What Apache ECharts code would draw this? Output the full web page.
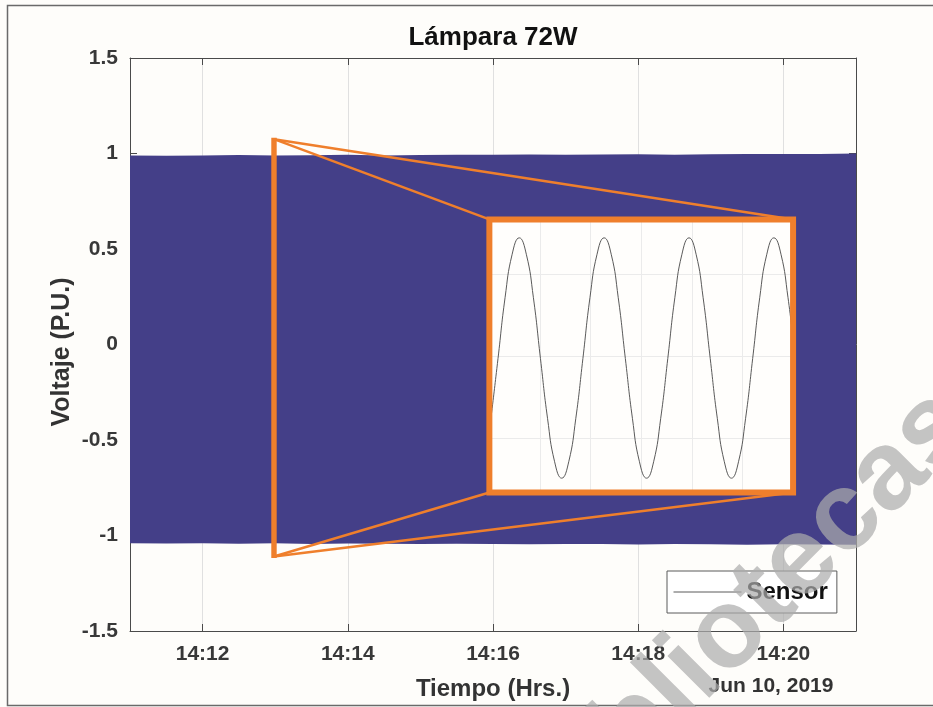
<!DOCTYPE html>
<html><head><meta charset="utf-8">
<script src="https://cdn.jsdelivr.net/npm/echarts@6/dist/echarts.min.js"></script>
<style>html,body{margin:0;padding:0;background:#fff}#c{width:933px;height:707px}</style>
</head><body><div id="c"></div>
<script>
// ---- texts ----
const titleText = 'Lámpara 72W';
const xAxisName = 'Tiempo (Hrs.)';
const yAxisName = 'Voltaje (P.U.)';
const dateText = 'Jun 10, 2019';
const seriesName = 'Sensor';
const watermarkText = 'bibliotecas';

// ---- main axes ----
const xRange = ['14:11:00', '14:21:00'];
const yTicks = [-1.5, -1, -0.5, 0, 0.5, 1, 1.5];

// ---- main signal envelope (dense 60 Hz signal seen as a band) ----
const bandTime = ['14:11:00','14:11:30','14:12:00','14:12:30','14:13:00','14:13:30','14:14:00','14:14:30','14:15:00','14:15:30','14:16:00','14:16:30','14:17:00','14:17:30','14:18:00','14:18:30','14:19:00','14:19:30','14:20:00','14:20:30','14:21:00'];
const bandUpper = [0.99, 0.988, 0.99, 0.992, 0.99, 0.991, 0.993, 0.99, 0.992, 0.994, 0.993, 0.995, 0.993, 0.995, 0.996, 0.994, 0.996, 0.998, 0.997, 0.998, 1.0];
const bandLower = [-1.04, -1.042, -1.04, -1.043, -1.041, -1.044, -1.042, -1.043, -1.045, -1.043, -1.044, -1.046, -1.044, -1.045, -1.047, -1.045, -1.046, -1.048, -1.046, -1.047, -1.048];

// ---- zoom annotation (data coordinates of main axes) ----
const zoomSrcTime = ['14:12:58', '14:13:00'];
const zoomSrcVolt = [-1.11, 1.075];
const insetTime = ['14:15:57', '14:20:08'];
const insetVolt = [-0.775, 0.655];

// ---- inset waveform (ms, inset units) ----
const insetXRange = [0, 60];
const insetYRange = [-1.665, 1.665];
const insetMs = [0, 0.31, 1.71, 3.10, 4.50, 5.90, 7.30, 8.70, 10.09, 11.49, 12.89, 14.29, 15.68, 17.08, 18.48, 19.87, 21.27, 22.67, 24.07, 25.46, 26.86, 28.26, 29.65, 31.06, 32.45, 33.85, 35.25, 36.64, 38.04, 39.44, 40.84, 42.23, 43.63, 45.03, 46.42, 47.83, 49.22, 50.62, 52.02, 53.41, 54.81, 56.21, 57.61, 59.00, 60];
const insetValue = [-0.90, -0.76, -0.03, 0.71, 1.24, 1.44, 1.24, 0.71, -0.03, -0.76, -1.29, -1.49, -1.29, -0.76, -0.03, 0.71, 1.24, 1.44, 1.24, 0.71, -0.03, -0.76, -1.29, -1.49, -1.29, -0.76, -0.03, 0.71, 1.24, 1.44, 1.24, 0.71, -0.03, -0.76, -1.29, -1.49, -1.29, -0.76, -0.03, 0.71, 1.24, 1.44, 1.24, 0.71, 0.19];

// ---- styles ----
const FONT = '"Liberation Sans", Arial, Helvetica, sans-serif';
const BLUE = '#443f88';
const ORANGE = '#ef7f2c';
const AXIS = '#4a4a4a';
const LINE = '#5a5a5a';

function toMin(hms) {
  const p = hms.split(':').map(Number);
  return p[0] * 60 + p[1] + p[2] / 60;
}
function fmtMin(v) {
  const h = Math.floor(v / 60), m = Math.round(v - h * 60);
  return h + ':' + (m < 10 ? '0' : '') + m;
}

const chart = echarts.init(document.getElementById('c'));
const xMin = toMin(xRange[0]), xMax = toMin(xRange[1]);

const option = {
  backgroundColor: '#fefdfa',
  animation: false,
  grid: [
    { left: 130, top: 58, width: 726, height: 573, containLabel: false },
    { left: 490, top: 220, width: 304, height: 273, show: true, backgroundColor: '#fffefc', borderWidth: 0, z: 3 }
  ],
  legend: {
    data: [seriesName],
    left: 667, top: 571,
    padding: [9, 9, 9, 6],
    itemWidth: 68, itemHeight: 14,
    borderColor: '#5a5a5a', borderWidth: 1,
    backgroundColor: '#ffffff',
    itemStyle: { opacity: 0 },
    lineStyle: { color: LINE, width: 1 },
    textStyle: { fontSize: 24, fontWeight: 'bold', fontFamily: FONT, color: '#111' },
    z: 8
  },
  xAxis: [
    {
      gridIndex: 0, type: 'value', min: xMin, max: xMax, position: 'bottom',
      axisLine: { show: true, onZero: false, lineStyle: { color: AXIS, width: 1 } },
      axisTick: { show: true, inside: true, length: 7, lineStyle: { color: AXIS } },
      axisLabel: { formatter: fmtMin, fontSize: 21, fontWeight: 'bold', fontFamily: FONT, color: '#383838', margin: 13, showMinLabel: false, showMaxLabel: false },
      splitLine: { show: true, lineStyle: { color: '#e0e0e0', width: 1 } }
    },
    {
      gridIndex: 0, type: 'value', min: xMin, max: xMax, position: 'top',
      axisLine: { show: true, onZero: false, lineStyle: { color: AXIS, width: 1 } },
      axisTick: { show: true, inside: true, length: 7, lineStyle: { color: AXIS } },
      axisLabel: { show: false }, splitLine: { show: false }
    },
    {
      gridIndex: 1, type: 'value', min: insetXRange[0], max: insetXRange[1], interval: 10,
      axisLine: { show: false }, axisTick: { show: false }, axisLabel: { show: false },
      splitLine: { show: true, lineStyle: { color: '#ebebeb', width: 1 } }, z: 4
    }
  ],
  yAxis: [
    {
      gridIndex: 0, type: 'value', min: yTicks[0], max: yTicks[yTicks.length - 1], interval: yTicks[1] - yTicks[0],
      axisLine: { show: true, onZero: false, lineStyle: { color: AXIS, width: 1 } },
      axisTick: { show: true, inside: true, length: 7, lineStyle: { color: AXIS } },
      axisLabel: { fontSize: 21, fontWeight: 'bold', fontFamily: FONT, color: '#383838', margin: 12, padding: [6, 0, 0, 0] },
      splitLine: { show: false }
    },
    {
      gridIndex: 0, type: 'value', min: yTicks[0], max: yTicks[yTicks.length - 1], interval: yTicks[1] - yTicks[0], position: 'right',
      axisLine: { show: true, onZero: false, lineStyle: { color: AXIS, width: 1 } },
      axisTick: { show: true, inside: true, length: 7, lineStyle: { color: AXIS } },
      axisLabel: { show: false }, splitLine: { show: false }
    },
    {
      gridIndex: 1, type: 'value', min: insetYRange[0], max: insetYRange[1], splitNumber: 3,
      axisLine: { show: false }, axisTick: { show: false }, axisLabel: { show: false },
      splitLine: { show: true, lineStyle: { color: '#ebebeb', width: 1 } }, z: 4
    }
  ],
  series: [
    {
      name: 'band', type: 'custom', xAxisIndex: 0, yAxisIndex: 0, z: 2, silent: true,
      data: [[xMin, 0]],
      renderItem: function (params, api) {
        const pts = [];
        for (let i = 0; i < bandTime.length; i++) pts.push(api.coord([toMin(bandTime[i]), bandUpper[i]]));
        for (let i = bandTime.length - 1; i >= 0; i--) pts.push(api.coord([toMin(bandTime[i]), bandLower[i]]));
        return { type: 'polygon', shape: { points: pts }, style: { fill: BLUE } };
      }
    },
    {
      name: seriesName, type: 'line', xAxisIndex: 2, yAxisIndex: 2, z: 5,
      data: insetMs.map((t, i) => [t, insetValue[i]]),
      smooth: 0.5, symbol: 'none', showSymbol: false, clip: true,
      itemStyle: { color: LINE },
      lineStyle: { color: LINE, width: 1 }
    },
    {
      name: 'zoom', type: 'custom', xAxisIndex: 0, yAxisIndex: 0, z: 6, silent: true,
      data: [[xMin, 0]],
      renderItem: function (params, api) {
        const sTL = api.coord([toMin(zoomSrcTime[0]), zoomSrcVolt[1]]);
        const sBR = api.coord([toMin(zoomSrcTime[1]), zoomSrcVolt[0]]);
        const iTL = api.coord([toMin(insetTime[0]), insetVolt[1]]);
        const iBR = api.coord([toMin(insetTime[1]), insetVolt[0]]);
        const sx = (sTL[0] + sBR[0]) / 2;
        const ls = { stroke: ORANGE, lineWidth: 2.5 };
        return {
          type: 'group', children: [
            { type: 'line', shape: { x1: sx, y1: sTL[1], x2: iTL[0], y2: iTL[1] }, style: ls },
            { type: 'line', shape: { x1: sx, y1: sTL[1], x2: iBR[0], y2: iTL[1] }, style: ls },
            { type: 'line', shape: { x1: sx, y1: sBR[1], x2: iTL[0], y2: iBR[1] }, style: ls },
            { type: 'line', shape: { x1: sx, y1: sBR[1], x2: iBR[0], y2: iBR[1] }, style: ls },
            { type: 'rect', shape: { x: sTL[0], y: sTL[1], width: sBR[0] - sTL[0], height: sBR[1] - sTL[1] }, style: { fill: ORANGE, stroke: ORANGE, lineWidth: 3 } },
            { type: 'rect', shape: { x: iTL[0], y: iTL[1], width: iBR[0] - iTL[0], height: iBR[1] - iTL[1] }, style: { fill: 'none', stroke: ORANGE, lineWidth: 6 } }
          ]
        };
      }
    }
  ],
  graphic: [
    { type: 'rect', shape: { x: 7.5, y: 5.5, width: 940, height: 700 }, style: { fill: 'none', stroke: '#6a6a6a', lineWidth: 1.5 }, z: 50, silent: true },
    { type: 'text', x: 493, y: 38, style: { text: titleText, font: 'bold 26px ' + FONT, fill: '#111', align: 'center', verticalAlign: 'middle' }, z: 50 },
    { type: 'text', x: 493, y: 689, style: { text: xAxisName, font: 'bold 24px ' + FONT, fill: '#333', align: 'center', verticalAlign: 'middle' }, z: 50 },
    { type: 'text', x: 771, y: 686, style: { text: dateText, font: 'bold 21px ' + FONT, fill: '#333', align: 'center', verticalAlign: 'middle' }, z: 50 },
    { type: 'text', x: 62, y: 352, rotation: Math.PI / 2, style: { text: yAxisName, font: 'bold 25px ' + FONT, fill: '#333', align: 'center', verticalAlign: 'middle' }, z: 50 },
    { type: 'text', x: 541, y: 822, rotation: 0.785, style: { text: watermarkText, font: 'bold 112px ' + FONT, fill: '#acacac', opacity: 0.71, align: 'left', verticalAlign: 'middle' }, z: 60, silent: true }
  ]
};
chart.setOption(option);

// place the inset grid exactly on the annotated inset rectangle (main-axis data coords)
const pTL = chart.convertToPixel({ gridIndex: 0 }, [toMin(insetTime[0]), insetVolt[1]]);
const pBR = chart.convertToPixel({ gridIndex: 0 }, [toMin(insetTime[1]), insetVolt[0]]);
chart.setOption({
  grid: [
    {},
    { left: pTL[0], top: pTL[1], width: pBR[0] - pTL[0], height: pBR[1] - pTL[1] }
  ]
});
</script></body></html>
